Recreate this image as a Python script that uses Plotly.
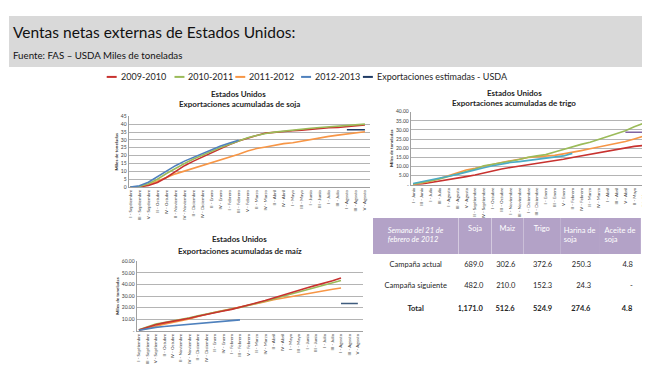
import plotly.graph_objects as go

FONT = "Lato"
W, H = 650, 369

# ---------------- data ----------------
soy_categories = ["I - Septiembre", "III - Septiembre", "V - Septiembre", "II - Octubre", "IV - Octubre",
                  "II - Noviembre", "IV - Noviembre", "II - Diciembre", "IV - Diciembre", "II - Enero",
                  "IV - Enero", "I - Febrero", "III - Febrero", "V - Febrero", "II - Marzo", "IV - Marzo",
                  "II - Abril", "IV - Abril", "I - Mayo", "III - Mayo", "I - Junio", "III - Junio",
                  "I - Julio", "III - Julio", "I - Agosto", "III - Agosto", "V - Agosto"]
soy_2009_2010 = [0, 0.2, 1.0, 2.9, 6.1, 9.8, 13.6, 16.5, 19.2, 21.8, 24.5, 27.0, 29.3, 31.2, 32.8, 34.3,
                 34.9, 35.4, 35.8, 36.2, 36.8, 37.4, 37.7, 37.9, 38.5, 39.0, 39.5]
soy_2010_2011 = [0, 0.4, 2.1, 5.0, 8.6, 11.9, 15.0, 17.8, 20.3, 22.8, 25.1, 27.2, 29.3, 31.4, 32.8, 34.1,
                 34.9, 35.6, 36.2, 36.8, 37.4, 37.9, 38.3, 38.9, 39.3, 39.7, 40.0]
soy_2011_2012 = [0, 0.2, 1.5, 3.6, 6.1, 8.4, 10.2, 11.9, 13.4, 15.3, 17.2, 19.2, 20.9, 23.0, 24.5, 25.5,
                 26.6, 27.6, 28.2, 29.3, 30.1, 31.2, 32.2, 33.0, 33.8, 34.5, 35.2]
soy_2012_2013 = [0, 0.8, 3.1, 6.7, 10.2, 13.6, 16.5, 19.0, 21.3, 23.8, 26.1, 28.0, 29.7] + [None] * 14
soy_estimate = [None] * 24 + [36.4, 36.4, 36.4]

wheat_categories = ["I - Junio", "III - Junio", "I - Julio", "III - Julio", "I - Agosto", "III - Agosto",
                    "V - Agosto", "II - Septiembre", "IV - Septiembre", "I - Octubre", "III - Octubre",
                    "I - Noviembre", "III - Noviembre", "I - Diciembre", "III - Diciembre", "I - Enero",
                    "III - Enero", "V - Enero", "II - Febrero", "IV - Febrero", "II - Marzo", "IV - Marzo",
                    "I - Abril", "III - Abril", "V - Abril", "II - Mayo", "IV - Mayo"]
wheat_2009_2010 = [0.2, 0.5, 1.3, 2.0, 2.7, 3.6, 4.5, 5.4, 6.6, 7.7, 8.6, 9.5, 10.2, 10.9, 11.7, 12.2,
                   13.1, 14.0, 14.9, 15.8, 16.7, 17.6, 18.5, 19.6, 20.3, 21.0, 21.5]
wheat_2010_2011 = [0.4, 1.1, 2.2, 3.2, 4.5, 5.7, 7.2, 8.6, 10.4, 11.1, 11.8, 12.9, 13.8, 15.1, 15.8, 16.5,
                   17.9, 19.4, 20.6, 22.1, 23.3, 24.8, 26.4, 27.8, 29.6, 31.7, 33.5]
wheat_2011_2012 = [0.2, 0.9, 2.0, 3.4, 5.0, 6.6, 8.1, 9.0, 9.9, 11.1, 12.2, 12.9, 14.0, 14.9, 15.2, 15.6,
                   16.1, 16.9, 17.6, 18.7, 19.7, 20.6, 21.5, 22.4, 23.7, 25.1, 26.5]
wheat_2012_2013 = [0.7, 1.6, 2.7, 3.6, 4.7, 5.7, 7.0, 8.1, 9.3, 10.4, 11.5, 12.2, 12.7, 13.3, 13.6, 14.2,
                   14.9, 15.8, 17.2] + [None] * 8
wheat_estimate = [None] * 24 + [28.7, 28.7, 28.7]

corn_categories = soy_categories
corn_2009_2010 = [0.8, 3.1, 5.4, 7.0, 8.2, 9.9, 11.0, 12.7, 14.4, 15.8, 17.2, 18.6, 20.3, 22.3, 24.2, 26.2,
                  28.5, 30.4, 32.7, 34.9, 37.2, 39.2, 41.1, 43.1, 45.6, None, None]
corn_2010_2011 = [1.1, 3.7, 5.9, 7.3, 8.5, 9.9, 11.3, 13.0, 14.6, 16.1, 17.5, 18.9, 20.3, 22.0, 24.0, 25.6,
                  27.6, 29.6, 31.5, 33.5, 35.5, 37.5, 39.2, 41.1, 43.4, None, None]
corn_2011_2012 = [0.6, 2.5, 4.5, 5.9, 7.3, 8.7, 10.4, 12.4, 14.4, 16.1, 17.5, 18.9, 20.3, 21.7, 23.4, 25.1,
                  26.8, 28.2, 29.6, 31.0, 32.4, 33.5, 34.6, 35.8, 37.0, None, None]
corn_2012_2013 = [0.6, 2.0, 3.1, 3.9, 4.5, 5.1, 5.6, 6.5, 7.0, 7.3, 7.9, 8.7, 9.6] + [None] * 14
corn_estimate = [None] * 24 + [23.7, 23.7, 23.7]

soy_yticks = [0, 5, 10, 15, 20, 25, 30, 35, 40, 45]
soy_yticktext = ["0", "5", "10", "15", "20", "25", "30", "35", "40", "45"]
wheat_yticks = [0, 5, 10, 15, 20, 25, 30, 35, 40]
wheat_yticktext = ["-", "5.00", "10.00", "15.00", "20.00", "25.00", "30.00", "35.00", "40.00"]
corn_yticks = [0, 10, 20, 30, 40, 50, 60]
corn_yticktext = ["-", "10.00", "20.00", "30.00", "40.00", "50.00", "60.00"]

legend_labels = ["2009-2010", "2010-2011", "2011-2012", "2012-2013", "Exportaciones estimadas - USDA"]

table_header = ["<i>Semana del 21 de<br>febrero de 2012</i>", "Soja", "Maiz", "Trigo",
                "Harina de<br>soja", "Aceite de<br>soja"]
table_rows = ["Campaña actual", "Campaña siguiente", "Total"]
table_soja = [689.0, 482.0, 1171.0]
table_maiz = [302.6, 210.0, 512.6]
table_trigo = [372.6, 152.3, 524.9]
table_harina = [250.3, 24.3, 274.6]
table_aceite = [4.8, None, 4.8]

# ---------------- styles ----------------
RED, GREEN, ORANGE, BLUE = "#c8322f", "#9bbb59", "#f79646", "#4f81bd"
CYAN, NAVY, PURPLE, SLATE = "#4bacc6", "#1f3b64", "#8064a2", "#3f5c7e"
GRID = "#b4b4b4"
TXT = "#262626"

def px_x(p):
    return p / W

def px_y(p):
    return 1 - p / H

fig = go.Figure()

def add_series(xname, yname, cats, series):
    for vals, color in series:
        fig.add_trace(go.Scatter(x=cats, y=vals, mode="lines", xaxis=xname, yaxis=yname,
                                 line=dict(color=color, width=1.6), connectgaps=False,
                                 showlegend=False, hoverinfo="skip"))

add_series("x", "y", soy_categories, [(soy_2011_2012, ORANGE), (soy_2009_2010, RED),
                                      (soy_2010_2011, GREEN), (soy_2012_2013, BLUE), (soy_estimate, NAVY)])
add_series("x2", "y2", wheat_categories, [(wheat_2009_2010, RED), (wheat_2011_2012, ORANGE),
                                          (wheat_2010_2011, GREEN), (wheat_2012_2013, CYAN),
                                          (wheat_estimate, PURPLE)])
add_series("x3", "y3", corn_categories, [(corn_2011_2012, ORANGE), (corn_2010_2011, GREEN),
                                         (corn_2009_2010, RED), (corn_2012_2013, BLUE),
                                         (corn_estimate, SLATE)])

def fmt(v):
    return "-" if v is None else f"{v:,.1f}"

def col(vals):
    out = [fmt(v) for v in vals]
    out[-1] = "<b>" + out[-1] + "</b>"
    return out

rows_col = [r for r in table_rows[:-1]] + ["<b>" + table_rows[-1] + "</b>"]
fig.add_trace(go.Table(
    domain=dict(x=[px_x(365), px_x(634)], y=[px_y(340), px_y(210)]),
    columnwidth=[86, 33, 32, 37, 39, 42],
    header=dict(values=table_header, fill_color="#b3a2c7", line=dict(color="#b3a2c7", width=0),
                align="center", height=36, font=dict(family=FONT, size=7.5, color="white")),
    cells=dict(values=[rows_col, col(table_soja), col(table_maiz), col(table_trigo),
                       col(table_harina), col(table_aceite)],
               fill_color="white", line=dict(color="white", width=0),
               align=["center", "right", "right", "right", "right", "right"], height=21,
               font=dict(family=FONT, size=7.5, color=TXT)),
))

def xaxis(dom, rng):
    return dict(domain=dom, range=rng, type="category", tickangle=-90, dtick=1,
                tickfont=dict(family=FONT, size=4.5, color="#404040"), showgrid=False,
                showline=True, linecolor="#a0a0a0", linewidth=1, ticks="", fixedrange=True)

def yaxis(dom, rng, tv, tt, anchor):
    return dict(domain=dom, range=rng, tickvals=tv, ticktext=tt, anchor=anchor,
                tickfont=dict(family=FONT, size=5, color="#404040"), showgrid=True, gridcolor=GRID,
                gridwidth=1, zeroline=False, showline=True, linecolor="#a0a0a0", linewidth=1,
                title=dict(text="<b>Miles de toneladas</b>", font=dict(family=FONT, size=4.5, color=TXT),
                           standoff=2), fixedrange=True)

annotations = []
def txt(x, y, s, size, bold=False, anchor="center", color=TXT):
    annotations.append(dict(xref="paper", yref="paper", x=px_x(x), y=px_y(y), text=("<b>%s</b>" % s) if bold else s,
                            showarrow=False, xanchor=anchor, yanchor="middle",
                            font=dict(family=FONT, size=size, color=color)))

txt(2, 21, "Ventas netas externas de Estados Unidos:", 15.5, anchor="left", color="#111111")
txt(2, 45, "Fuente: FAS – USDA Miles de toneladas", 9.7, anchor="left", color="#111111")

txt(230, 84, "Estados Unidos", 8, bold=True)
txt(231, 95, "Exportaciones acumuladas de soja", 8, bold=True)
txt(507, 83, "Estados Unidos", 8, bold=True)
txt(507, 94, "Exportaciones acumuladas de trigo", 8, bold=True)
txt(231, 232, "Estados Unidos", 8, bold=True)
txt(232, 244, "Exportaciones acumuladas de maíz", 8, bold=True)

shapes = [dict(type="rect", xref="paper", yref="paper", x0=0, x1=1, y0=px_y(57), y1=px_y(5),
               fillcolor="#d9d9d9", line=dict(width=0), layer="below")]

legend_colors = [RED, GREEN, ORANGE, BLUE, NAVY]
legend_x = [98, 166, 227, 293, 355]
for lab, c, x0 in zip(legend_labels, legend_colors, legend_x):
    shapes.append(dict(type="line", xref="paper", yref="paper", x0=px_x(x0), x1=px_x(x0 + 10),
                       y0=px_y(67), y1=px_y(67), line=dict(color=c, width=2)))
    txt(x0 + 12, 67, lab, 9.0, anchor="left", color=TXT)

fig.update_layout(
    width=W, height=H, margin=dict(l=0, r=0, t=0, b=0),
    paper_bgcolor="white", plot_bgcolor="white", showlegend=False,
    font=dict(family=FONT, color=TXT),
    xaxis=xaxis([px_x(120), px_x(362)], [-0.19, 26.55]),
    yaxis=yaxis([px_y(179), px_y(107)], [0, 45], soy_yticks, soy_yticktext, "x"),
    xaxis2=xaxis([px_x(403), px_x(638)], [-0.26, 26.22]),
    yaxis2=yaxis([px_y(176.7), px_y(102.3)], [0, 40], wheat_yticks, wheat_yticktext, "x2"),
    xaxis3=xaxis([px_x(128), px_x(355)], [-0.27, 26.6]),
    yaxis3=yaxis([px_y(325.3), px_y(254.3)], [0, 60], corn_yticks, corn_yticktext, "x3"),
    annotations=annotations, shapes=shapes,
)
fig.update_layout(xaxis=dict(anchor="y"), xaxis2=dict(anchor="y2"), xaxis3=dict(anchor="y3"))

fig.write_html("out.html")
